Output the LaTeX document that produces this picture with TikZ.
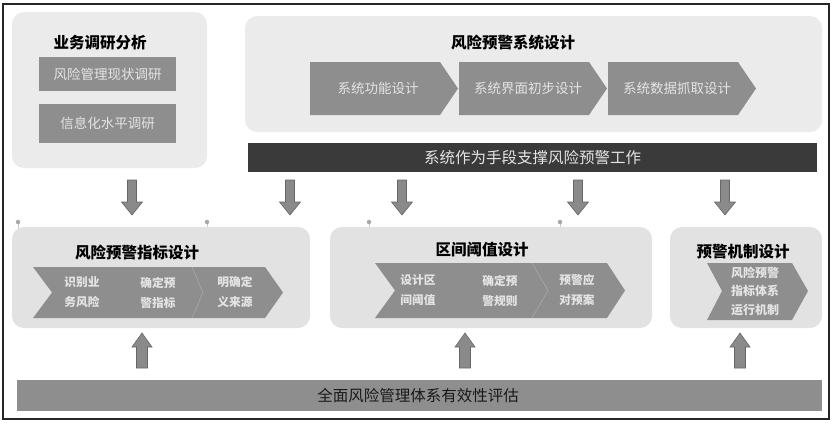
\documentclass[tikz,border=0pt]{standalone}
\usepackage{fontspec}
\setmainfont{Noto Sans CJK SC}
\definecolor{topbg}{HTML}{EBEBEB}
\definecolor{midbg}{HTML}{E2E2E2}
\definecolor{chev}{HTML}{8E8E8E}
\definecolor{chevtxt}{HTML}{E4E4E4}
\definecolor{darkbar}{HTML}{3A3A3A}
\definecolor{arrfill}{HTML}{8A8A8A}
\definecolor{arrdraw}{HTML}{666666}
\definecolor{divline}{HTML}{A8A8A8}
\tikzset{
  panel/.style={rounded corners=12pt, draw=none},
  title/.style={font=\fontsize{15.5}{18}\selectfont\bfseries, text=black, inner sep=0pt},
  chevshape/.style={fill=chev, draw=none},
  chevlabel/.style={font=\fontsize{13.5}{16}\selectfont, text=chevtxt, inner sep=0pt},
  smalllabel/.style={font=\fontsize{11.7}{20}\selectfont\bfseries, text=chevtxt, align=center, inner sep=0pt},
  tinylabel/.style={font=\fontsize{12}{18.5}\selectfont\bfseries, text=chevtxt, align=center, inner sep=0pt},
  barlabel/.style={font=\fontsize{15.5}{18}\selectfont, inner sep=0pt},
  blockarrow/.style={fill=arrfill, draw=arrdraw, line width=0.6pt},
  dotmark/.style={circle, fill=divline, inner sep=0pt, minimum size=4.5pt},
  downarr/.pic={\path[blockarrow] (-4.5,0) -- (4.5,0) -- (4.5,22) -- (10.5,22) -- (0,35) -- (-10.5,22) -- (-4.5,22) -- cycle;},
  uparr/.pic={\path[blockarrow] (-5.5,0) -- (5.5,0) -- (5.5,-21) -- (10,-21) -- (0,-35) -- (-10,-21) -- (-5.5,-21) -- cycle;}
}
\begin{document}
\begin{tikzpicture}[x=1pt,y=-1pt]
\useasboundingbox (0,0) rectangle (834,423);
\fill[white] (0,0) rectangle (834,423);
\draw[line width=1.2pt, draw=black!85] (3,4) rectangle (829,419);

% top left panel
\path[panel, fill=topbg] (12,12) rectangle (207,168);
\node[title] (t1) at (100,43) {业务调研分析};
\fill[chev] (39,57) rectangle (176,91);
\node[chevlabel] (s1) at (107.5,74) {风险管理现状调研};
\fill[chev] (39,104) rectangle (176,143);
\node[chevlabel] (s2) at (107.5,123.5) {信息化水平调研};

% top right panel
\path[panel, fill=topbg] (245,16) rectangle (822,132);
\node[title] (t2) at (513,43) {风险预警系统设计};
\path[chevshape] (310,62) -- (440,62) -- (458,88.5) -- (440,115) -- (310,115) -- cycle;
\node[chevlabel] (c1) at (378,88.5) {系统功能设计};
\path[chevshape] (459,62) -- (589,62) -- (607,88.5) -- (589,115) -- (459,115) -- cycle;
\node[chevlabel] (c2) at (528,88.5) {系统界面初步设计};
\path[chevshape] (608,62) -- (738,62) -- (756,88.5) -- (738,115) -- (608,115) -- cycle;
\node[chevlabel] (c3) at (677,88.5) {系统数据抓取设计};

% dark bar
\fill[darkbar] (248,143) rectangle (817,172);
\node[barlabel, text=chevtxt] (bar1) at (532.5,157.5) {系统作为手段支撑风险预警工作};

% down arrows
\foreach \x in {132,290,402,578,725}
  \pic at (\x,180) {downarr};

% dots
\foreach \x in {18,207,369,560}{
  \draw[divline!60, line width=0.5pt] (\x,222) -- (\x,229);
  \node[dotmark] at (\x,222) {};
}

% middle panels
\path[panel, fill=midbg] (12,227) rectangle (310,328);
\path[panel, fill=midbg] (330,227) rectangle (652,328);
\path[panel, fill=midbg] (670,227) rectangle (822,328);

\node[title] (m1) at (137,253) {风险预警指标设计};
\node[title] (m2) at (482,250) {区间阈值设计};
\node[title] (m3) at (743,252) {预警机制设计};

\path[chevshape] (33,267) -- (265,267) -- (283,292.5) -- (265,318) -- (33,318) -- (52,292.5) -- cycle;
\draw[divline, line width=0.6pt] (192,267) -- (203,292.5) -- (192,318);
\node[smalllabel] (a1) at (82,292.5) {识别业\\务风险};
\node[smalllabel] (a2) at (158,292.5) {确定预\\警指标};
\node[smalllabel] (a3) at (235,292.5) {明确定\\义来源};

\path[chevshape] (375,263) -- (607,263) -- (625,290.5) -- (607,318) -- (375,318) -- (395,290.5) -- cycle;
\draw[divline, line width=0.6pt] (532,263) -- (548,290.5) -- (532,318);
\node[smalllabel] (b1) at (418,290.5) {设计区\\间阈值};
\node[smalllabel] (b2) at (500,290.5) {确定预\\警规则};
\node[smalllabel] (b3) at (577,290.5) {预警应\\对预案};

\path[chevshape] (707,263) -- (792,263) -- (808,291) -- (792,320) -- (707,320) -- (722,291) -- cycle;
\node[tinylabel] (d1) at (755,291) {风险预警\\指标体系\\运行机制};

% up arrows
\foreach \x in {142,465,740}
  \pic at (\x,368) {uparr};

% bottom bar
\fill[chev] (17,380) rectangle (822,411);
\node[barlabel, text=black!90] (bar2) at (418,396) {全面风险管理体系有效性评估};
\end{tikzpicture}
\end{document}
